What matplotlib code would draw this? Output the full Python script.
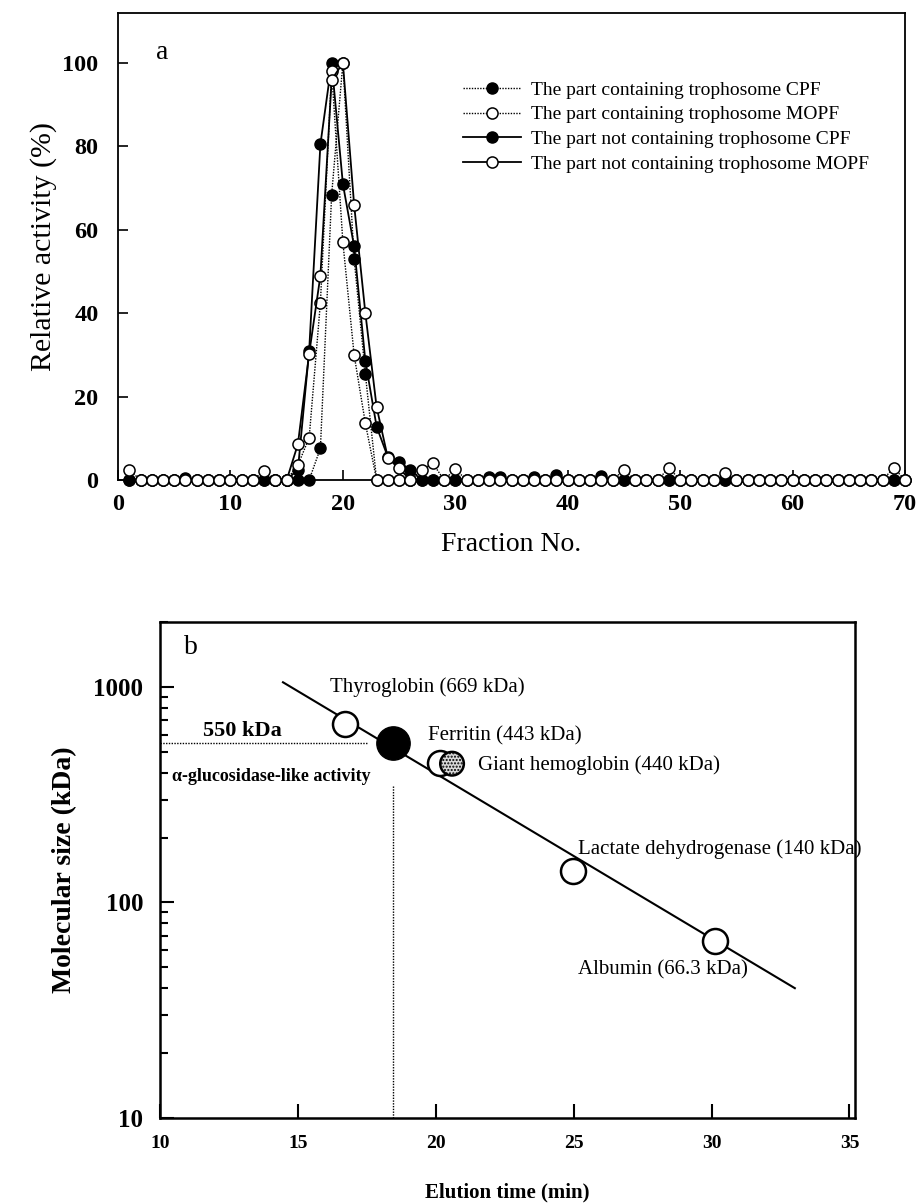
import matplotlib
matplotlib.use("Agg")
import matplotlib.pyplot as plt
from matplotlib.ticker import LogLocator, NullFormatter, FixedLocator

plt.rcParams['font.family'] = ['Liberation Serif', 'DejaVu Serif']

# --- datos panel a: fracciones 1..70 ---
fracciones = list(range(1, 71))

# parte que contiene trofosoma, CPF (punteado, relleno)
cont_cpf = [0, 0, 0, 0, 0, 0, 0, 0, 0, 0,
            0, 0, 0, 0, 0, 0, 0, 7.6, 68.4, 100,
            53, 25.4, 0, 0, 0, 0, 0, 0, 0, 0,
            0, 0, 0, 0, 0, 0, 0, 0, 0, 0,
            0, 0, 0, 0, 0, 0, 0, 0, 0, 0,
            0, 0, 0, 0, 0, 0, 0, 0, 0, 0,
            0, 0, 0, 0, 0, 0, 0, 0, 0, 0]
# parte que contiene trofosoma, MOPF (punteado, abierto)
cont_mopf = [2.4, 0, 0, 0, 0, 0, 0, 0, 0, 0,
             0, 0, 2.2, 0, 0, 3.6, 10.1, 42.5, 98, 57,
             30, 13.6, 0, 0, 0, 0, 2.4, 4, 0, 2.6,
             0, 0, 0, 0, 0, 0, 0, 0, 0, 0,
             0, 0, 0, 0, 2.4, 0, 0, 0, 2.9, 0,
             0, 0, 0, 1.6, 0, 0, 0, 0, 0, 0,
             0, 0, 0, 0, 0, 0, 0, 0, 2.9, 0]
# parte sin trofosoma, CPF (linea continua, relleno)
nocont_cpf = [0, 0, 0, 0, 0, 0.5, 0, 0, 0, 0,
              0, 0, 0, 0, 0, 2.5, 31, 80.5, 100, 71,
              56, 28.5, 12.8, 5.5, 4.4, 2.4, 0, 0, 0, 0,
              0, 0, 0.7, 0.7, 0, 0, 0.7, 0, 1.2, 0,
              0, 0, 0.9, 0, 0, 0, 0, 0, 0, 0,
              0, 0, 0, 0, 0, 0, 0, 0, 0, 0,
              0, 0, 0, 0, 0, 0, 0, 0, 0, 0]
# parte sin trofosoma, MOPF (linea continua, abierto) - solo alrededor del pico
frac_nocont_mopf = [14, 15, 16, 17, 18, 19, 20, 21, 22, 23, 24, 25, 26]
nocont_mopf = [0, 0, 8.6, 30.3, 49, 96, 100, 66, 40, 17.5, 5.3, 2.8, 0]

leyendas = ["The part containing trophosome CPF",
            "The part containing trophosome MOPF",
            "The part not containing trophosome CPF",
            "The part not containing trophosome MOPF"]

# --- datos panel b: estandares ---
estandares = ["Thyroglobin (669 kDa)", "Ferritin (443 kDa)",
              "Lactate dehydrogenase (140 kDa)", "Albumin (66.3 kDa)"]
t_estandar = [16.7, 20.15, 24.97, 30.12]
kda_estandar = [669, 443, 140, 66.3]
t_hemoglobina = 20.59
kda_hemoglobina = 440
t_muestra = 18.45
kda_muestra = 550
recta_t = [14.46, 33.02]
recta_kda = [1050, 40]

fig = plt.figure(figsize=(9.2, 12.03), dpi=100)

# ================= PANEL a =================
ax = fig.add_axes([0.1283, 0.601, 0.8554, 0.3882])
punteado = (0, (1, 1))
ax.plot(fracciones, cont_cpf, color='black', linestyle=punteado, linewidth=1.0,
        marker='o', markersize=8, markerfacecolor='black', markeredgecolor='black',
        markeredgewidth=1, clip_on=False, zorder=2, label=leyendas[0])
ax.plot(fracciones, nocont_cpf, color='black', linestyle='-', linewidth=1.3,
        marker='o', markersize=8, markerfacecolor='black', markeredgecolor='black',
        markeredgewidth=1, clip_on=False, zorder=2, label=leyendas[2])
ax.plot(fracciones, cont_mopf, color='black', linestyle=punteado, linewidth=1.0,
        marker='o', markersize=8, markerfacecolor='white', markeredgecolor='black',
        markeredgewidth=1.1, clip_on=False, zorder=3, label=leyendas[1])
ax.plot(frac_nocont_mopf, nocont_mopf, color='black', linestyle='-', linewidth=1.3,
        marker='o', markersize=8, markerfacecolor='white', markeredgecolor='black',
        markeredgewidth=1.1, clip_on=False, zorder=3, label=leyendas[3])

ax.set_xlim(0, 70)
ax.set_ylim(0, 112)
ax.set_xticks([0, 10, 20, 30, 40, 50, 60, 70])
ax.set_yticks([0, 20, 40, 60, 80, 100])
ax.tick_params(direction='in', length=7, width=1.2, labelsize=17.5, pad=10)
ax.tick_params(axis='y', pad=14)
for lab in ax.get_xticklabels() + ax.get_yticklabels():
    lab.set_fontweight('bold')
for s in ax.spines.values():
    s.set_linewidth(1.3)
ax.set_xlabel("Fraction No.", fontsize=20, labelpad=12)
ax.set_ylabel("Relative activity (%)", fontsize=21.5, labelpad=4)
ax.text(0.048, 0.916, "a", transform=ax.transAxes, fontsize=20, va='center', ha='left')

h, l = ax.get_legend_handles_labels()
orden = [0, 2, 1, 3]
ax.legend([h[i] for i in orden], [l[i] for i in orden], loc='upper left',
          bbox_to_anchor=(0.438, 0.854), frameon=False, fontsize=14,
          handlelength=3.0, handletextpad=0.5, labelspacing=0.36,
          borderpad=0, borderaxespad=0, numpoints=1)

# ================= PANEL b =================
bx = fig.add_axes([0.1739, 0.0707, 0.7554, 0.4123])
bx.set_yscale('log')
bx.plot(recta_t, recta_kda, color='black', linewidth=1.5, zorder=2)
bx.plot([10, 17.54], [kda_muestra, kda_muestra], color='black', linestyle=punteado,
        linewidth=1.0, zorder=1)
bx.plot([t_muestra, t_muestra], [347, 10], color='black', linestyle=punteado,
        linewidth=1.0, zorder=1)
bx.plot(t_estandar, kda_estandar, linestyle='none', marker='o', markersize=18,
        markerfacecolor='white', markeredgecolor='black', markeredgewidth=1.8, zorder=3)
bx.scatter([t_hemoglobina], [kda_hemoglobina], s=17**2, facecolor='#d9d9d9',
           edgecolor='black', linewidth=1.8, hatch='.....', zorder=4)
bx.plot([t_muestra], [kda_muestra], linestyle='none', marker='o', markersize=24,
        markerfacecolor='black', markeredgecolor='black', zorder=5)

bx.set_xlim(10, 35.2)
bx.set_ylim(10, 2000)
bx.set_xticks([10, 15, 20, 25, 30, 35])
bx.yaxis.set_major_locator(FixedLocator([10, 100, 1000]))
bx.yaxis.set_minor_locator(LogLocator(base=10, subs=range(2, 10)))
bx.yaxis.set_minor_formatter(NullFormatter())
bx.set_yticklabels(['10', '100', '1000'])
bx.tick_params(which='major', direction='in', length=10, width=1.5, labelsize=18, pad=10)
bx.tick_params(which='minor', direction='in', length=6, width=1.5)
bx.tick_params(axis='y', pad=12)
bx.tick_params(axis='x', labelsize=14, pad=12)
for lab in bx.get_xticklabels() + bx.get_yticklabels():
    lab.set_fontweight('bold')
for s in bx.spines.values():
    s.set_linewidth(1.8)
bx.set_xlabel("Elution time (min)", fontsize=15, fontweight='bold', labelpad=22)
bx.set_ylabel("Molecular size (kDa)", fontsize=20, fontweight='bold', labelpad=12)
bx.text(0.035, 0.948, "b", transform=bx.transAxes, fontsize=20, va='center', ha='left')

bx.text(16.16, 1000, estandares[0], fontsize=15, va='center', ha='left')
bx.text(19.72, 591, estandares[1], fontsize=15, va='center', ha='left')
bx.text(21.53, 434, "Giant hemoglobin (440 kDa)", fontsize=15, va='center', ha='left')
bx.text(25.16, 176, estandares[2], fontsize=15, va='center', ha='left')
bx.text(25.16, 48.8, estandares[3], fontsize=15, va='center', ha='left')
bx.text(11.56, 624, "550 kDa", fontsize=16, fontweight='bold', va='center', ha='left')
bx.text(10.44, 385, "α-glucosidase-like activity", fontsize=13, fontweight='bold',
        va='center', ha='left')

fig.savefig("out.png", dpi=100)
